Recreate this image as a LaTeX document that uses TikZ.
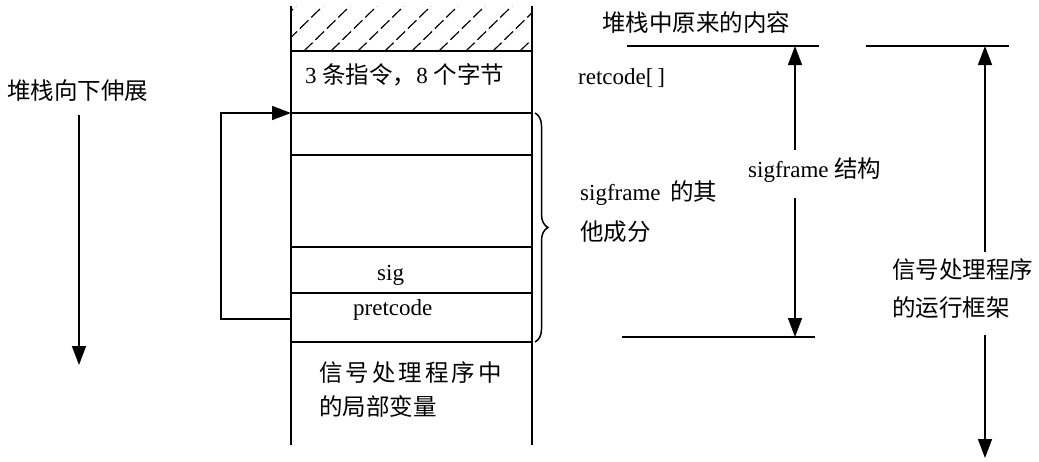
\documentclass[tikz,border=0pt]{standalone}
\usepackage{fontspec}
\setmainfont{Liberation Serif}
\newfontfamily\cjk{Noto Sans CJK SC}
\usetikzlibrary{arrows.meta,decorations.pathreplacing}
\tikzset{
  line/.style={line width=1.5pt},
  arr/.style={line width=1.5pt,-{Triangle[width=14pt,length=19pt]}},
  txt/.style={anchor=west,inner sep=0pt,font=\fontsize{23}{27}\selectfont},
  zh/.style={anchor=west,inner sep=0pt,font=\cjk\fontsize{23.5}{27}\selectfont},
}
\begin{document}
\begin{tikzpicture}[x=1pt,y=-1pt]
\useasboundingbox (0,0) rectangle (1039,461);
% stack box
\coordinate (TL) at (291,6);
\coordinate (TR) at (532,6);
\coordinate (BL) at (291,445);
\coordinate (BR) at (532,445);
\draw[line] (TL) -- (BL);
\draw[line] (TR) -- (BR);
\foreach \y/\n in {51/a,113/b,155/c,247/d,293/e,342/f}{
  \coordinate (L\n) at (291,\y);
  \coordinate (R\n) at (532,\y);
  \draw[line] (L\n) -- (R\n);
}
% hatching
\begin{scope}
\clip (291,6) rectangle (532,51);
\foreach \x in {250,277,...,560}{
  \draw[line width=1.2pt,dash pattern=on 12pt off 4pt] (\x,51) -- (\x+46,6);
}
\end{scope}
% texts in the box
\node[anchor=west,inner sep=0pt] (t1) at (305,75) {\fontsize{23}{27}\selectfont 3 {\cjk\fontsize{23.5}{27}\selectfont 条指令，}8 {\cjk\fontsize{23.5}{27}\selectfont 个字节}};
\node[txt] (sig) at (377,275) {sig};
\node[txt] (pret) at (353,310) {pretcode};
\node[zh] (loc1) at (319,373) {信\hspace{3pt}号\hspace{3pt}处\hspace{3pt}理\hspace{3pt}程\hspace{3pt}序\hspace{3pt}中};
\node[zh] (loc2) at (319,406) {的局部变量};
% feedback arrow
\coordinate (fb1) at (291,319);
\coordinate (fb2) at (221,319);
\coordinate (fb3) at (221,113);
\draw[arr] (fb1) -- (fb2) -- (fb3) -- (Lb);
% brace
\draw[line,decorate,decoration={brace,amplitude=13pt}] (535,113) -- (535,342);
\node[txt] (oth1) at (580,193) {sigframe\, {\cjk\fontsize{23.5}{27}\selectfont 的其}};
\node[zh] (oth2) at (580,232) {他成分};
% left arrow
\node[zh] (grow) at (7,91) {堆栈向下伸展};
\coordinate (g1) at (79,115);
\coordinate (g2) at (79,365);
\draw[arr] (g1) -- (g2);
% right part
\node[zh] (orig) at (602,23) {堆栈中原来的内容};
\node[txt] (ret) at (578,78) {retcode[\,]};
\coordinate (h1a) at (627,46);
\coordinate (h1b) at (819,46);
\coordinate (h2a) at (866,46);
\coordinate (h2b) at (1009,46);
\coordinate (h3a) at (622,337);
\coordinate (h3b) at (815,337);
\draw[line] (h1a) -- (h1b);
\draw[line] (h2a) -- (h2b);
\draw[line] (h3a) -- (h3b);
\node[txt] (sf) at (748,170) {sigframe {\cjk\fontsize{23.5}{27}\selectfont 结构}};
\coordinate (s1) at (795,150);
\coordinate (s1t) at (795,46);
\coordinate (s2) at (795,198);
\coordinate (s2t) at (795,337);
\draw[arr] (s1) -- (s1t);
\draw[arr] (s2) -- (s2t);
\node[zh] (fr1) at (892,270) {信号处理程序};
\node[zh] (fr2) at (892,308) {的运行框架};
\coordinate (r1) at (985,252);
\coordinate (r1t) at (985,46);
\coordinate (r2) at (985,335);
\coordinate (r2t) at (985,458);
\draw[arr] (r1) -- (r1t);
\draw[arr] (r2) -- (r2t);
\end{tikzpicture}
\end{document}
